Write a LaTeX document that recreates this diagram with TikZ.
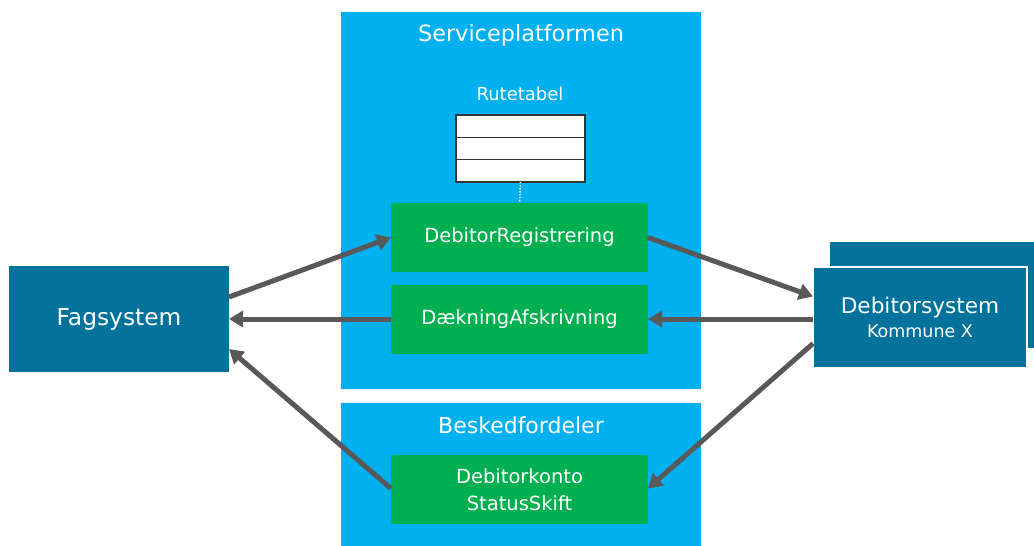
\documentclass[tikz,border=0pt]{standalone}
\usepackage{fontspec}
\setsansfont{DejaVu Sans}
\usepackage{xcolor}
\usetikzlibrary{arrows.meta}
\definecolor{spblue}{HTML}{00B0F0}
\definecolor{spgreen}{HTML}{00B050}
\definecolor{sysblue}{HTML}{00729C}
\definecolor{flowgray}{HTML}{595959}
\newcommand{\txt}[1]{\fontsize{#1}{1.2\dimexpr#1pt\relax}\selectfont}

\begin{document}
\begin{tikzpicture}[x=1pt, y=-1pt,
    every node/.style={font=\sffamily, text=white, inner sep=0pt, outer sep=0pt},
    platform/.style={fill=spblue, minimum width=360pt},
    service/.style={fill=spgreen, minimum width=257pt, minimum height=69pt, align=center, font=\sffamily\txt{19.5}},
    system/.style={fill=sysblue, align=center},
    row/.style={fill=white, draw=black!80, line width=1.1pt, minimum width=129pt, minimum height=22.3pt},
    flow/.style={draw=flowgray, line width=5pt, -{Triangle[length=14pt, width=16pt]}}]
    \useasboundingbox (0,0) rectangle (1034,546);
    % platforms
    \node[platform, minimum height=377pt] (sp) at (521,200.5) {};
    \node[platform, minimum height=143pt] (bf) at (521,474.5) {};
    \node[font=\sffamily\txt{22.4}] (sptitle) at (521,35) {Serviceplatformen};
    \node[font=\sffamily\txt{22}] (bftitle) at (521,425) {Beskedfordeler};
    % route table
    \node[font=\sffamily\txt{18}] (rutetitle) at (520,94) {Rutetabel};
    \foreach \r in {1,2,3}
        \node[row] (rute\r) at (520.5,{115+22.33*(\r-0.5)}) {};
    % services
    \node[service] (reg) at (519.5,237.5) {DebitorRegistrering};
    \node[service] (daek) at (519.5,319) {DækningAfskrivning};
    \node[service] (skift) at (519.5,489.5) {Debitorkonto\\[4pt]StatusSkift};
    \draw[white, line width=1.5pt, dash pattern=on 1.5pt off 1.5pt] (rute3.south) -- (reg.north);
    % systems
    \node[system, minimum width=220pt, minimum height=106pt, font=\sffamily\txt{23.3}] (fag) at (119,319) {Fagsystem};
    \fill[sysblue] (830,242) rectangle (1034,348);
    \node[system, draw=white, line width=2pt, minimum width=214pt, minimum height=101pt] (debitor) at (920,317.5)
        {{\txt{21.6}Debitorsystem}\\[5pt]{\txt{17.5}Kommune X}};
    % flows
    \draw[flow] ([yshift=22pt]fag.east) -- (reg.west);
    \draw[flow] (daek.west) -- (fag.east);
    \draw[flow] ([yshift=1pt]skift.west) -- ([yshift=-30pt]fag.east);
    \draw[flow] (reg.east) -- ([yshift=21pt]debitor.west);
    \draw[flow] ([yshift=-1.5pt]debitor.west) -- (daek.east);
    \draw[flow] ([yshift=-26pt]debitor.west) -- ([yshift=1pt]skift.east);
\end{tikzpicture}
\end{document}
